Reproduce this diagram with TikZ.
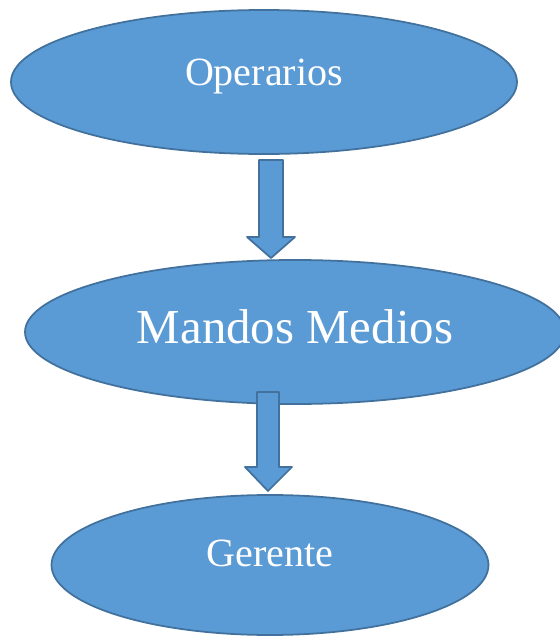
\documentclass[tikz,border=0pt]{standalone}
\usepackage{tkz-euclide}
\usepackage{tikz}
\usepackage{fontspec}
\setmainfont{Liberation Serif}
\usetikzlibrary{shapes.geometric}
\definecolor{boxfill}{RGB}{91,155,213}
\definecolor{boxline}{RGB}{65,113,156}
\tikzset{stage/.style={ellipse, fill=boxfill, draw=boxline, line width=0.5pt, text=white, inner sep=0pt, text depth=0pt}}

\begin{document}
\begin{tikzpicture}
    \useasboundingbox (0,0) rectangle (5.60,6.37);
    \node[stage, minimum width=5.06cm, minimum height=1.44cm, text height=0.06cm, font=\fontsize{11.4}{13}\selectfont] (op) at (2.64,5.55) {Operarios};
    \node[stage, minimum width=5.40cm, minimum height=1.44cm, text height=0.22cm, font=\fontsize{13.9}{16}\selectfont] (mm) at (2.95,3.05) {Mandos Medios};
    \node[stage, minimum width=4.37cm, minimum height=1.40cm, text height=0.04cm, font=\fontsize{11.4}{13}\selectfont] (ge) at (2.70,0.72) {Gerente};
    \tkzDefPoints{2.59/4.77/A1,2.83/4.77/B1,2.83/4.00/C1,2.95/4.00/D1,2.71/3.79/E1,2.47/4.00/F1,2.59/4.00/G1}
    \tkzDefPoints{2.57/2.45/A2,2.79/2.45/B2,2.79/1.70/C2,2.92/1.70/D2,2.68/1.46/E2,2.45/1.70/F2,2.57/1.70/G2}
    \tkzDrawPolygon[fill=boxfill,draw=boxline,line width=0.5pt](A1,B1,C1,D1,E1,F1,G1)
    \tkzDrawPolygon[fill=boxfill,draw=boxline,line width=0.5pt](A2,B2,C2,D2,E2,F2,G2)
\end{tikzpicture}
\end{document}
